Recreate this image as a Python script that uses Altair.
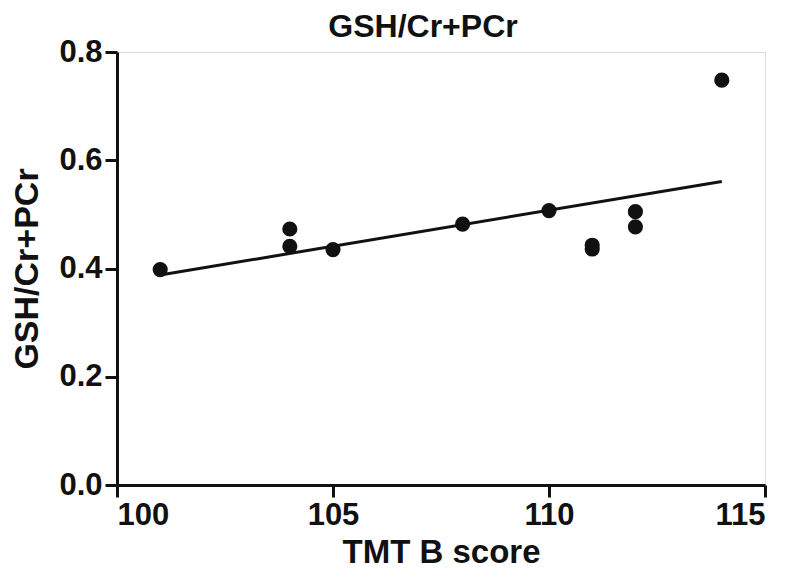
import altair as alt
import pandas as pd

tmt_b = [101, 104, 104, 105, 108, 110, 111, 111, 112, 112, 114]
gsh_ratio = [0.398, 0.473, 0.441, 0.435, 0.482, 0.507, 0.443, 0.436, 0.505, 0.477, 0.748]

df = pd.DataFrame({"tmt": tmt_b, "gsh": gsh_ratio})

FONT = "Liberation Sans"
INK = "#111111"

x_enc = alt.X(
    "tmt:Q",
    scale=alt.Scale(domain=[100, 115], nice=False, zero=False),
    axis=alt.Axis(
        title="TMT B score",
        values=[100, 105, 110, 115],
        format="d",
        grid=False,
        domainColor=INK, domainWidth=3,
        tickColor=INK, tickWidth=3, tickSize=12,
        labelFont=FONT, labelFontSize=31, labelFontWeight="bold", labelColor=INK,
        labelPadding=3,
        titleFont=FONT, titleFontSize=33, titleFontWeight="bold", titleColor=INK,
        titlePadding=6,
    ),
)
y_enc = alt.Y(
    "gsh:Q",
    scale=alt.Scale(domain=[0, 0.8], nice=False),
    axis=alt.Axis(
        title="GSH/Cr+PCr",
        values=[0, 0.2, 0.4, 0.6, 0.8],
        format=".1f",
        grid=False,
        domainColor=INK, domainWidth=3,
        tickColor=INK, tickWidth=3, tickSize=12,
        labelFont=FONT, labelFontSize=31, labelFontWeight="bold", labelColor=INK,
        labelPadding=3,
        titleFont=FONT, titleFontSize=34, titleFontWeight="bold", titleColor=INK,
        titlePadding=14,
    ),
)

points = alt.Chart(df).mark_circle(size=230, color=INK, opacity=1).encode(x=x_enc, y=y_enc)

line = (
    alt.Chart(df)
    .transform_regression("tmt", "gsh", method="linear")
    .mark_line(color=INK, strokeWidth=3)
    .encode(x="tmt:Q", y="gsh:Q")
)

chart = (
    alt.layer(line, points)
    .properties(
        width=648,
        height=433,
        title=alt.TitleParams(
            "GSH/Cr+PCr", font=FONT, fontSize=32, fontWeight="bold", color=INK,
            anchor="middle", offset=0, dx=-18, dy=8,
        ),
        autosize=alt.AutoSizeParams(type="none"),
        padding={"left": 109, "top": 44, "right": 19, "bottom": 87},
    )
    .configure_view(stroke=None)
    .configure(background="white")
)

chart.save("out.html", embed_options={"renderer": "svg", "actions": False})
